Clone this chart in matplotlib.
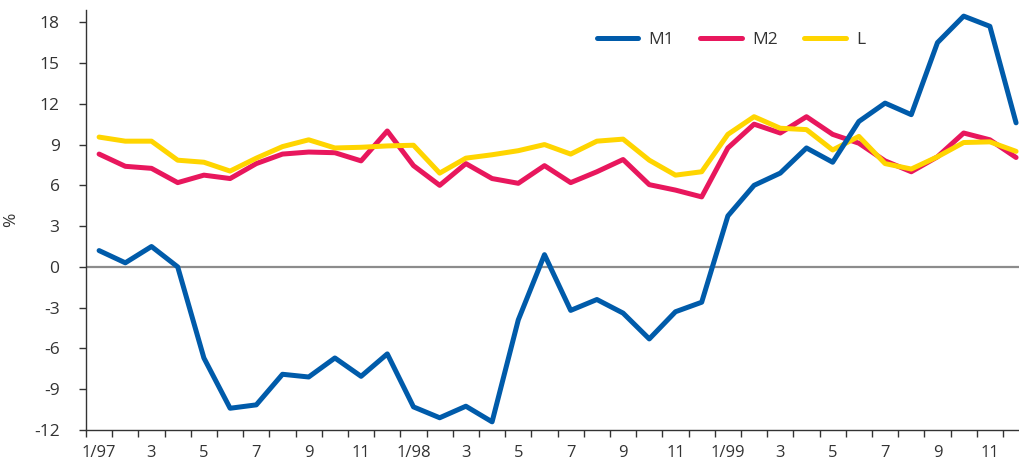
import numpy as np
import matplotlib
matplotlib.use("Agg")
import matplotlib.pyplot as plt
from matplotlib.ticker import FixedLocator

plt.rcParams['font.family'] = ['Open Sans', 'DejaVu Sans']

# ---------- 数据 ----------
months = [f"{m}/{y}" for y in (97, 98, 99) for m in range(1, 13)]
tick_labels = ["1/97", "3", "5", "7", "9", "11",
               "1/98", "3", "5", "7", "9", "11",
               "1/99", "3", "5", "7", "9", "11"]

m1 = [1.2, 0.3, 1.5, 0.0, -6.7, -10.4, -10.15, -7.9, -8.1, -6.7, -8.05, -6.4,
      -10.3, -11.1, -10.25, -11.4, -3.9, 0.9, -3.2, -2.4, -3.4, -5.3, -3.3, -2.6,
      3.75, 6.0, 6.9, 8.75, 7.7, 10.7, 12.05, 11.2, 16.5, 18.45, 17.7, 10.6]
m2 = [8.3, 7.4, 7.25, 6.2, 6.75, 6.5, 7.6, 8.3, 8.45, 8.4, 7.8, 10.0,
      7.45, 6.0, 7.6, 6.5, 6.15, 7.45, 6.2, 7.0, 7.9, 6.05, 5.65, 5.15,
      8.75, 10.5, 9.85, 11.05, 9.75, 9.1, 7.8, 7.0, 8.1, 9.85, 9.35, 8.05]
l_ = [9.55, 9.25, 9.25, 7.85, 7.7, 7.05, 8.0, 8.85, 9.35, 8.75, 8.8, 8.9,
      8.95, 6.9, 8.0, 8.25, 8.55, 9.0, 8.3, 9.25, 9.4, 7.85, 6.75, 7.0,
      9.75, 11.05, 10.2, 10.1, 8.6, 9.6, 7.6, 7.2, 8.1, 9.15, 9.2, 8.5]

# ---------- 绘图 ----------
fig = plt.figure(figsize=(10.2, 4.65), dpi=100)
ax = fig.add_axes([86 / 1020, 35 / 465, 1 - 86 / 1020, 420 / 465])

x = np.arange(len(months))
txt = "#333333"
ax.axhline(0, color="#8c8c8c", lw=1.6, zorder=1)
ax.plot(x, m1, color="#005BAA", lw=3.6, label="M1", zorder=3, solid_capstyle="round")
ax.plot(x, m2, color="#E8175D", lw=3.6, label="M2", zorder=2, solid_capstyle="round")
ax.plot(x, l_, color="#FFD500", lw=3.6, label="L", zorder=2.5, solid_capstyle="round")

ax.set_xlim(-0.5, 35.15)
ax.set_ylim(-12, 18.9)
ax.set_yticks(np.arange(-12, 19, 3))
ax.set_yticklabels([str(v) for v in range(-12, 19, 3)])

ax.xaxis.set_major_locator(FixedLocator(np.arange(0, 36, 2)))
ax.set_xticklabels(tick_labels)
ax.xaxis.set_minor_locator(FixedLocator(np.arange(-0.5, 36, 1)))
ax.tick_params(axis="x", which="major", length=0, pad=11, labelsize=12, colors=txt)
ax.tick_params(axis="x", which="minor", length=5, width=1, color="#333333")
ax.tick_params(axis="y", length=5, width=1, pad=14, labelsize=12.5, colors=txt)

for s in ("top", "right"):
    ax.spines[s].set_visible(False)
for s in ("left", "bottom"):
    ax.spines[s].set_color("#333333")
    ax.spines[s].set_linewidth(1)

ax.set_ylabel("%", fontsize=12.5, color=txt)
ax.yaxis.set_label_coords(-0.072, 0.5)

leg = ax.legend(loc="center", ncol=3, frameon=False, fontsize=12.5,
                handlelength=2.4, columnspacing=1.5, handletextpad=0.6)
for t in leg.get_texts():
    t.set_color(txt)
leg.set_bbox_to_anchor(((731 - 86) / 934, (430 - 40) / 420), transform=ax.transAxes)

fig.savefig("out.png", dpi=100)
